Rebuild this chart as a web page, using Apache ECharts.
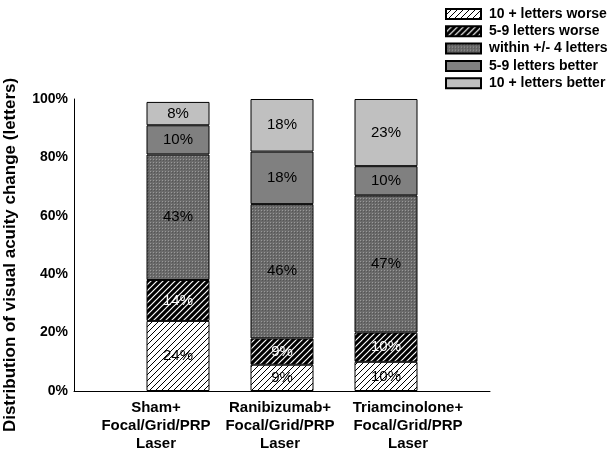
<!DOCTYPE html>
<html><head><meta charset="utf-8">
<script src="https://cdn.jsdelivr.net/npm/echarts@6/dist/echarts.min.js"></script>
<style>html,body{margin:0;padding:0;background:#fff}#c{width:612px;height:452px}</style>
</head><body><div id="c"></div>
<script>
var categories = ['Sham+\nFocal/Grid/PRP\nLaser', 'Ranibizumab+\nFocal/Grid/PRP\nLaser', 'Triamcinolone+\nFocal/Grid/PRP\nLaser'];
var seriesNames = ['10 + letters worse', '5-9 letters worse', 'within +/- 4 letters', '5-9 letters better', '10 + letters better'];
var worse10 = [24, 9, 10];
var worse59 = [14, 9, 10];
var within4 = [43, 46, 47];
var better59 = [10, 18, 10];
var better10 = [8, 18, 23];
var yTicks = [0, 20, 40, 60, 80, 100];

var FONT = 'Liberation Sans, Arial, Helvetica, sans-serif';
function hatch(bg, fg, lw) {
  var s = 6, c = document.createElement('canvas');
  c.width = s; c.height = s;
  var g = c.getContext('2d');
  g.fillStyle = bg; g.fillRect(0, 0, s, s);
  g.strokeStyle = fg; g.lineWidth = lw;
  g.beginPath();
  g.moveTo(0, s); g.lineTo(s, 0);
  g.moveTo(-s / 2, s / 2); g.lineTo(s / 2, -s / 2);
  g.moveTo(s / 2, s * 1.5); g.lineTo(s * 1.5, s / 2);
  g.stroke();
  return { image: c, repeat: 'repeat' };
}
function dots() {
  var c = document.createElement('canvas');
  c.width = 3; c.height = 3;
  var g = c.getContext('2d');
  g.fillStyle = '#6a6a6a'; g.fillRect(0, 0, 3, 3);
  g.fillStyle = '#999999'; g.fillRect(0, 0, 1, 1);
  g.fillStyle = '#555555'; g.fillRect(1, 1, 1, 1);
  return { image: c, repeat: 'repeat' };
}
var fills = [hatch('#ffffff', '#000000', 1), hatch('#000000', '#ffffff', 1.2), dots(), '#808080', '#c0c0c0'];
var labelColors = ['#000', '#fff', '#000', '#000', '#000'];
var dataSets = [worse10, worse59, within4, better59, better10];
// horizontal nudges of the category labels (left/right padding) as in the original
var labelPads = [[0, 44, 0, 0], [0, 4, 0, 0], [0, 0, 0, 44]];

var chart = echarts.init(document.getElementById('c'), null, { renderer: 'canvas' });
chart.setOption({
  animation: false,
  textStyle: { fontFamily: FONT },
  legend: {
    orient: 'vertical', left: 445, top: 7, itemGap: 3.3, padding: 0,
    itemWidth: 35, itemHeight: 10, icon: 'rect',
    data: seriesNames,
    textStyle: { fontSize: 14, fontWeight: 'bold', color: '#000', fontFamily: FONT, padding: [0, 0, 0, 3] }
  },
  grid: { left: 74, right: 122, top: 99, bottom: 61, containLabel: false, outerBoundsMode: 'none' },
  xAxis: {
    type: 'category',
    data: categories.map(function (c, i) { return { value: c, textStyle: { padding: labelPads[i] } }; }),
    boundaryGap: false, min: -1, max: 3,
    axisLine: { lineStyle: { color: '#000', width: 1 } },
    axisTick: { show: false },
    axisLabel: { interval: 0, fontSize: 15, fontWeight: 'bold', color: '#000', lineHeight: 18, margin: 8,
      fontFamily: FONT }
  },
  yAxis: {
    type: 'value', min: 0, max: 100, interval: 20,
    name: 'Distribution of visual acuity change (letters)',
    nameLocation: 'middle', nameGap: 55,
    nameTextStyle: { fontSize: 17, fontWeight: 'bold', color: '#000', fontFamily: FONT, padding: [0, 20, 0, 0] },
    axisLine: { show: true, lineStyle: { color: '#000', width: 1 } },
    axisTick: { show: false },
    splitLine: { show: false },
    axisLabel: { fontSize: 14, fontWeight: 'bold', color: '#000', margin: 6, fontFamily: FONT,
      formatter: function (v) { return yTicks.indexOf(v) >= 0 ? v + '%' : ''; } }
  },
  series: seriesNames.map(function (n, i) {
    return {
      name: n, type: 'bar', stack: 'all', barWidth: 63,
      data: dataSets[i],
      itemStyle: { color: fills[i], borderColor: '#000', borderWidth: 1 },
      label: { show: true, position: 'inside', formatter: '{c}%', fontSize: 15, color: labelColors[i],
        fontFamily: FONT }
    };
  })
});
</script></body></html>
